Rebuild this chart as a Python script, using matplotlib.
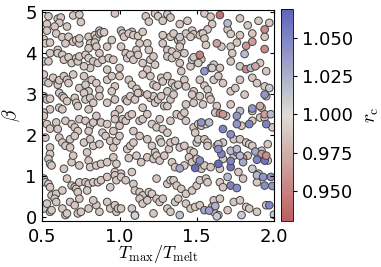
import matplotlib
matplotlib.use("Agg")
import matplotlib.pyplot as plt
from matplotlib.colors import LinearSegmentedColormap
import numpy as np

# grey points (T_max/T_melt, beta)
grey_points = [
    # beta 4.5 - 5
    (0.54, 4.90), (0.53, 4.71), (0.53, 4.55), (0.60, 4.84), (0.62, 4.87), (0.61, 4.74),
    (0.70, 4.92), (0.74, 4.94), (0.75, 4.76), (0.66, 4.65), (0.58, 4.65), (0.97, 4.97),
    (0.87, 4.55), (1.17, 4.90), (1.23, 4.97), (1.25, 4.90), (1.19, 4.77), (1.08, 4.52),
    (1.01, 4.55), (1.31, 4.95), (1.33, 4.87), (1.28, 4.79), (1.39, 4.71), (1.44, 4.79),
    (1.47, 4.55), (1.55, 4.97), (1.59, 4.89), (1.60, 4.71), (1.57, 4.58), (1.53, 4.48),
    (1.70, 4.58), (1.72, 4.47), (1.83, 4.68), (1.90, 4.79), (1.78, 4.85), (1.97, 4.74),
    # beta 4 - 4.5
    (0.51, 4.34), (0.52, 4.24), (0.55, 4.26), (0.59, 4.48), (0.63, 4.39), (0.65, 4.24),
    (0.67, 4.40), (0.70, 4.28), (0.72, 4.32), (0.74, 4.24), (0.74, 4.36), (0.60, 4.08),
    (0.55, 4.00), (0.80, 4.40), (0.84, 4.44), (0.85, 4.36), (0.87, 4.47), (0.88, 4.50),
    (0.90, 4.51), (0.81, 4.24), (0.84, 4.26), (0.85, 4.16), (0.80, 4.12), (0.92, 4.16),
    (0.95, 4.32), (1.02, 4.48), (1.03, 4.40), (1.06, 4.48), (1.09, 4.44), (1.12, 4.42),
    (1.15, 4.52), (1.13, 4.24), (1.18, 4.24), (1.11, 4.08), (1.01, 4.16), (1.19, 4.08),
    (1.28, 4.44), (1.33, 4.40), (1.35, 4.48), (1.38, 4.32), (1.40, 4.28), (1.43, 4.48),
    (1.48, 4.46), (1.28, 4.24), (1.31, 4.08), (1.34, 4.04), (1.39, 4.16), (1.46, 4.40),
    (1.52, 4.44), (1.54, 4.48), (1.55, 4.36), (1.56, 4.20), (1.66, 4.16), (1.72, 4.16),
    (1.78, 4.44), (1.86, 4.48), (1.94, 4.40), (1.76, 4.26),
    # beta 3.5 - 4
    (0.51, 3.80), (0.54, 3.80), (0.60, 4.00), (0.63, 3.96), (0.64, 3.84), (0.67, 3.90),
    (0.69, 3.76), (0.72, 3.88), (0.73, 3.80), (0.74, 3.92), (0.78, 3.96), (0.80, 3.88),
    (0.83, 3.80), (0.86, 3.76), (0.89, 3.84), (0.93, 3.88), (0.87, 4.00), (0.96, 3.84),
    (0.81, 3.64), (0.77, 3.68), (0.92, 3.60), (1.04, 4.00), (1.05, 3.88), (1.07, 3.96),
    (1.09, 3.84), (1.12, 3.96), (1.15, 3.76), (1.20, 3.84), (1.22, 3.92), (1.23, 3.72),
    (1.18, 3.60), (1.00, 3.64), (1.31, 3.92), (1.34, 3.88), (1.37, 3.96), (1.39, 3.76),
    (1.40, 3.56), (1.46, 3.68), (1.47, 3.84), (1.48, 3.90), (1.42, 4.00), (1.53, 3.85),
    (1.51, 3.76), (1.59, 3.64), (1.61, 3.72), (1.65, 3.64), (1.72, 3.80), (1.73, 4.00),
    (1.91, 3.76), (1.95, 3.56), (1.78, 3.68),
    # beta 3 - 3.5
    (0.52, 3.31), (0.54, 3.27), (0.57, 3.40), (0.60, 3.29), (0.60, 3.23), (0.61, 3.34),
    (0.64, 3.44), (0.66, 3.35), (0.67, 3.27), (0.70, 3.48), (0.74, 3.15), (0.51, 3.48),
    (0.78, 3.23), (0.82, 3.35), (0.80, 3.07), (0.85, 3.27), (0.87, 3.11), (0.92, 3.35),
    (0.95, 3.44), (0.97, 3.19), (0.77, 3.44), (1.00, 3.44), (1.06, 3.35), (1.08, 3.23),
    (1.11, 3.13), (1.15, 3.48), (1.20, 3.44), (1.22, 3.23), (1.24, 3.19), (1.13, 3.03),
    (1.27, 3.40), (1.28, 3.31), (1.31, 3.44), (1.34, 3.27), (1.36, 3.19), (1.38, 3.23),
    (1.42, 3.35), (1.43, 3.19), (1.48, 3.07), (1.31, 3.07), (1.52, 3.35), (1.55, 3.21),
    (1.57, 3.11), (1.61, 3.35), (1.64, 3.44), (1.67, 3.27), (1.72, 3.07), (1.75, 3.15),
    (1.78, 3.35), (1.86, 3.40), (1.89, 3.27), (1.94, 3.19), (1.95, 2.95),
    # beta 2.5 - 3
    (0.51, 2.95), (0.53, 2.87), (0.55, 2.89), (0.61, 3.03), (0.63, 2.95), (0.64, 2.91),
    (0.61, 2.67), (0.63, 2.63), (0.66, 2.83), (0.71, 2.91), (0.72, 2.79), (0.73, 2.71),
    (0.55, 2.63), (0.51, 2.55), (0.77, 3.03), (0.78, 2.87), (0.81, 2.91), (0.83, 2.79),
    (0.87, 2.95), (0.97, 2.87), (0.95, 3.07), (0.92, 2.79), (0.80, 2.63), (1.00, 2.63),
    (1.04, 2.87), (1.05, 2.83), (1.07, 2.95), (1.10, 2.87), (1.12, 3.03), (1.15, 2.67),
    (1.20, 2.91), (1.22, 2.95), (1.18, 2.99), (1.23, 2.79), (1.25, 2.87), (1.27, 2.95),
    (1.29, 2.71), (1.31, 2.71), (1.33, 2.87), (1.35, 2.99), (1.43, 2.75), (1.48, 2.79),
    (1.47, 2.99), (1.52, 2.95), (1.54, 2.75), (1.58, 2.95), (1.59, 2.87), (1.63, 2.71),
    (1.72, 2.75), (1.86, 2.59), (1.92, 2.67), (1.81, 2.99),
    # beta 2 - 2.5
    (0.51, 2.47), (0.53, 2.27), (0.55, 2.16), (0.59, 2.31), (0.65, 2.35), (0.69, 2.27),
    (0.71, 2.19), (0.73, 2.10), (0.74, 2.39), (0.60, 2.15), (0.78, 2.35), (0.81, 2.23),
    (0.83, 2.31), (0.80, 2.10), (0.85, 2.47), (0.88, 2.31), (0.92, 2.27), (0.97, 2.51),
    (0.97, 2.39), (0.96, 2.10), (0.89, 2.06), (1.00, 2.23), (1.02, 2.39), (1.04, 2.35),
    (1.06, 2.47), (1.08, 2.51), (1.13, 2.35), (1.15, 2.39), (1.18, 2.51), (1.21, 2.27),
    (1.24, 2.19), (1.09, 2.10), (1.26, 2.39), (1.28, 2.15), (1.33, 2.35), (1.37, 2.51),
    (1.40, 2.47), (1.42, 2.55), (1.43, 2.35), (1.48, 2.19), (1.49, 2.06), (1.31, 2.06),
    (1.51, 2.27), (1.53, 2.23), (1.56, 2.27), (1.62, 2.55), (1.69, 2.47), (1.79, 2.23),
    (1.86, 2.35), (1.91, 2.43), (1.94, 2.43), (1.99, 2.19),
    # beta 1.5 - 2
    (0.52, 1.94), (0.55, 1.70), (0.55, 1.54), (0.61, 1.94), (0.63, 1.82), (0.65, 1.74),
    (0.68, 1.90), (0.68, 1.70), (0.71, 1.98), (0.77, 1.82), (0.81, 1.90), (0.83, 1.74),
    (0.87, 1.78), (0.91, 1.98), (0.94, 1.86), (0.96, 1.70), (0.98, 1.86), (0.79, 1.58),
    (1.00, 1.98), (1.05, 1.66), (1.07, 1.74), (1.09, 1.82), (1.13, 1.98), (1.18, 1.90),
    (1.21, 1.74), (1.23, 1.58), (1.26, 1.90), (1.27, 1.82), (1.32, 1.66), (1.33, 1.82),
    (1.36, 1.86), (1.39, 1.70), (1.42, 1.74), (1.46, 1.62), (1.48, 1.58), (1.50, 1.82),
    (1.51, 1.90), (1.55, 1.90), (1.57, 1.82), (1.57, 1.74), (1.63, 1.74), (1.67, 1.82),
    (1.74, 1.90), (1.78, 1.90), (1.82, 1.82), (1.84, 1.78), (1.86, 1.74), (1.96, 1.78),
    (1.92, 1.62),
    # beta 1 - 1.5
    (0.54, 1.42), (0.55, 1.30), (0.56, 1.26), (0.64, 1.18), (0.69, 1.34), (0.74, 1.26),
    (0.70, 1.50), (0.80, 1.38), (0.81, 1.22), (0.85, 1.26), (0.88, 1.30), (0.92, 1.34),
    (0.96, 1.46), (0.98, 1.30), (0.97, 1.10), (1.06, 1.44), (1.11, 1.50), (1.14, 1.34),
    (1.18, 1.46), (1.22, 1.42), (1.24, 1.50), (1.08, 1.10), (1.01, 1.06), (1.26, 1.38),
    (1.29, 1.50), (1.34, 1.34), (1.36, 1.22), (1.42, 1.26), (1.45, 1.46), (1.47, 1.34),
    (1.50, 1.42), (1.53, 1.18), (1.55, 1.26), (1.59, 1.22), (1.65, 1.18), (1.67, 1.42),
    (1.74, 1.50), (1.83, 1.50), (1.90, 1.06), (1.96, 1.38),
    # beta 0.5 - 1
    (0.51, 0.94), (0.52, 0.85), (0.54, 0.81), (0.55, 0.73), (0.56, 0.53), (0.59, 0.57),
    (0.63, 0.65), (0.66, 0.94), (0.69, 0.77), (0.71, 0.73), (0.72, 0.69), (0.73, 0.61),
    (0.74, 0.85), (0.78, 0.85), (0.80, 0.81), (0.83, 0.85), (0.86, 0.85), (0.88, 0.90),
    (0.92, 0.98), (0.97, 1.02), (0.98, 0.90), (0.79, 0.65), (0.94, 0.73), (1.01, 0.98),
    (1.04, 0.90), (1.09, 0.81), (1.10, 0.65), (1.13, 0.61), (1.15, 0.53), (1.19, 0.61),
    (1.21, 0.57), (1.24, 0.94), (1.31, 0.81), (1.33, 0.90), (1.35, 0.90), (1.37, 0.77),
    (1.40, 0.69), (1.43, 0.57), (1.47, 0.65), (1.50, 0.77), (1.52, 0.90), (1.56, 0.94),
    (1.57, 0.85), (1.65, 0.85), (1.67, 0.73), (1.77, 1.10), (1.80, 0.94), (1.89, 0.85),
    # beta 0 - 0.5
    (0.51, 0.21), (0.53, 0.33), (0.55, 0.13), (0.56, 0.17), (0.58, 0.45), (0.59, 0.37),
    (0.63, 0.21), (0.65, 0.05), (0.66, 0.09), (0.68, 0.37), (0.71, 0.29), (0.73, 0.09),
    (0.74, 0.45), (0.75, 0.13), (0.80, 0.21), (0.85, 0.29), (0.87, 0.13), (0.92, 0.37),
    (0.94, 0.21), (0.97, 0.29), (0.98, 0.13), (0.99, 0.21), (0.83, 0.41), (1.01, 0.21),
    (1.08, 0.21), (1.10, 0.05), (1.13, 0.45), (1.15, 0.33), (1.18, 0.41), (1.22, 0.09),
    (1.24, 0.45), (1.26, 0.37), (1.28, 0.45), (1.31, 0.21), (1.33, 0.13), (1.36, 0.37),
    (1.38, 0.45), (1.43, 0.33), (1.46, 0.21), (1.49, 0.25), (1.52, 0.29), (1.61, 0.13),
    (1.61, 0.41), (1.70, 0.17), (1.65, 0.45), (1.74, 0.37), (1.78, 0.41), (1.82, 0.25),
    (1.84, 0.21), (1.89, 0.13), (1.95, 0.29),
]
# the grey points all read as the same slightly warm grey on the colour bar
grey_rc = 0.988

# coloured points (T_max/T_melt, beta, r_c)
coloured_points = [
    (1.65, 4.93, 0.940), (1.70, 4.73, 1.020), (1.94, 4.58, 0.955), (1.63, 4.24, 0.965),
    (1.82, 4.18, 0.960), (1.86, 4.28, 0.965), (1.94, 4.10, 0.955), (1.52, 3.96, 0.950),
    (1.81, 3.98, 1.020), (1.39, 4.39, 1.010), (1.55, 3.56, 1.040), (1.60, 3.64, 1.010),
    (1.82, 3.61, 0.955), (1.85, 3.64, 1.020), (1.88, 3.68, 0.970), (1.97, 3.15, 1.010),
    (1.94, 2.99, 1.040), (1.65, 2.53, 0.955), (1.67, 2.51, 0.960), (1.78, 2.59, 1.020),
    (1.86, 2.65, 1.040), (1.91, 2.71, 0.970), (1.94, 2.51, 0.965), (1.98, 2.51, 1.020),
    (1.95, 2.27, 1.050), (1.53, 2.31, 1.040), (1.58, 2.31, 1.020), (1.67, 2.15, 1.050),
    (1.72, 2.02, 1.045), (1.76, 2.27, 1.040), (1.84, 2.27, 1.050), (1.76, 2.47, 1.040),
    (1.64, 1.78, 1.015), (1.76, 1.58, 1.045), (1.80, 1.44, 0.960), (1.88, 1.60, 1.030),
    (1.92, 1.54, 0.960), (1.94, 1.38, 1.060), (1.52, 1.38, 1.045), (1.64, 1.30, 1.065),
    (1.49, 1.20, 1.065), (1.39, 1.19, 1.030), (1.72, 1.22, 1.060), (1.72, 1.37, 1.050),
    (1.80, 1.34, 1.030), (1.89, 1.40, 1.050), (1.78, 1.50, 1.020), (1.66, 1.54, 1.050),
    (1.70, 0.98, 1.020), (1.72, 0.77, 1.050), (1.76, 0.71, 1.045), (1.86, 1.18, 1.010),
    (1.89, 1.02, 1.020), (1.93, 0.98, 1.040), (1.94, 0.77, 1.045), (1.98, 0.98, 1.045),
    (1.99, 0.76, 1.040), (1.60, 0.25, 1.020), (1.62, 0.27, 1.025), (1.64, 0.05, 1.010),
    (1.39, 0.05, 1.015), (1.79, 0.05, 1.010), (1.97, 0.29, 1.050), (2.00, 0.06, 1.010),
    (1.55, 0.17, 1.030), (1.58, 0.16, 1.035), (1.63, 0.02, 1.010), (1.95, 1.50, 0.955),
    (1.72, 1.62, 1.020), (1.64, 1.66, 1.045), (1.76, 1.66, 1.020), (1.10, 0.04, 1.005),
]

rc_ticks = [0.950, 0.975, 1.000, 1.025, 1.050]
rc_min, rc_max = 0.930, 1.069

plt.rcParams['mathtext.fontset'] = 'cm'

# muted red - grey - blue map, sampled from the reference colour bar
rc_cmap = LinearSegmentedColormap.from_list(
    'rc_map', ['#bd5f60', '#dcdcd5', '#5f64bf'])

gx, gb = zip(*grey_points)
cx, cb_, crc = zip(*coloured_points)
T_ratio = np.concatenate([gx, cx])
beta = np.concatenate([gb, cb_])
r_c = np.concatenate([np.full(len(gx), grey_rc), crc])

fig = plt.figure(figsize=(3.81, 2.67), dpi=100)
ax = fig.add_axes([0.111, 0.173, 0.608, 0.789])
sc = ax.scatter(T_ratio, beta, c=r_c, cmap=rc_cmap, vmin=rc_min, vmax=rc_max,
                s=30, edgecolors='#444444', linewidths=0.7)

ax.set_xlim(0.5, 2.0)
ax.set_ylim(-0.09, 5.05)
ax.set_xticks([0.5, 1.0, 1.5, 2.0])
ax.set_yticks([0, 1, 2, 3, 4, 5])
ax.tick_params(direction='in', top=True, right=True, labelsize=13, length=3)
ax.tick_params(axis='x', pad=5)
ax.tick_params(axis='y', pad=4)
ax.set_xlabel(r'$T_{\rm max}/T_{\rm melt}$', fontsize=13, labelpad=-2)
ax.set_ylabel(r'$\beta$', fontsize=14, labelpad=2)

cax = fig.add_axes([0.7375, 0.172, 0.031, 0.793])
cbar = fig.colorbar(sc, cax=cax)
cbar.set_ticks(rc_ticks)
cbar.ax.set_yticklabels(['%.3f' % t for t in rc_ticks])
cbar.ax.tick_params(labelsize=13, length=3)
cbar.outline.set_linewidth(0.6)
cbar.set_label(r'$r_{\rm c}$', fontsize=14, labelpad=6)

fig.savefig('out.png', dpi=100)
